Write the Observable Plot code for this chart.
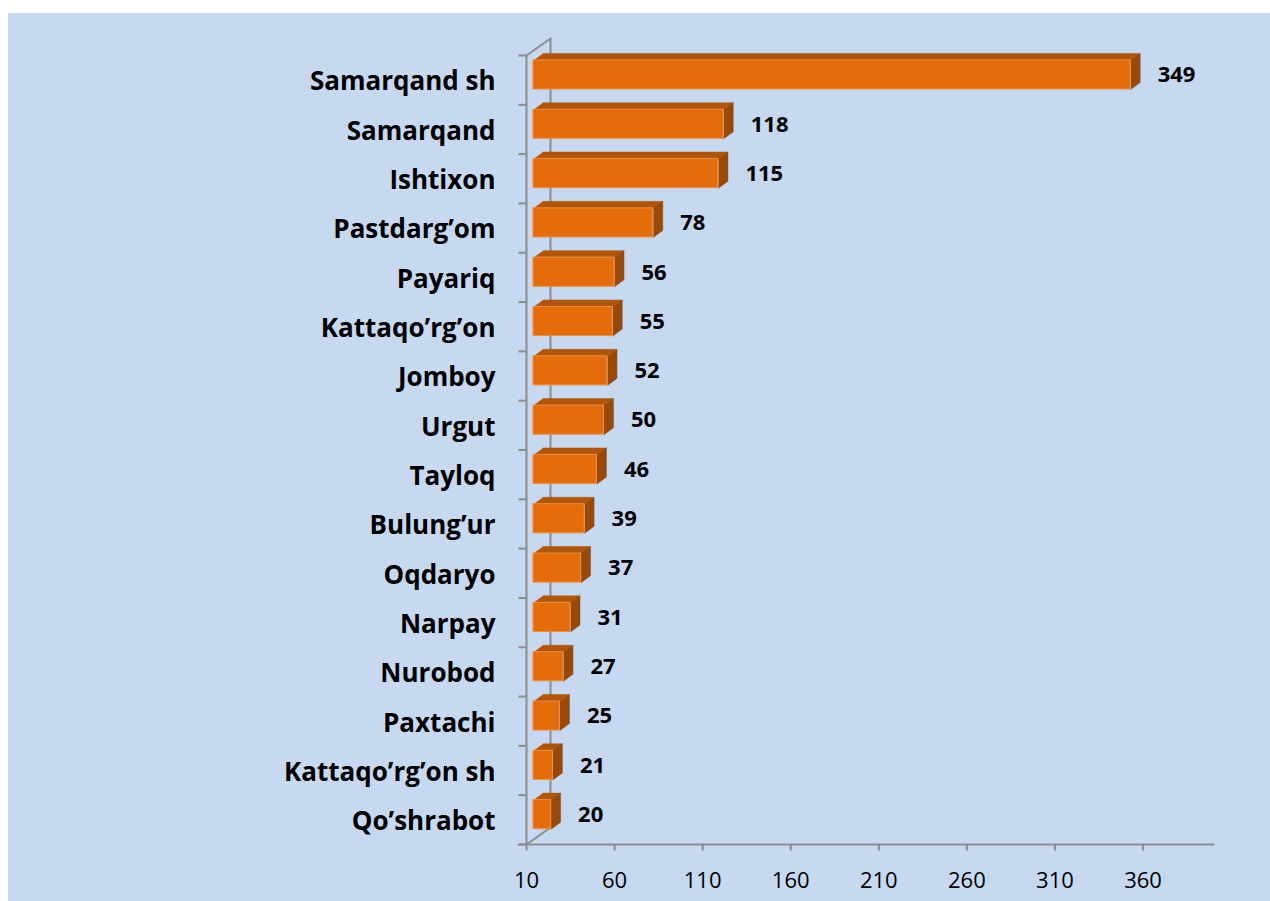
<!DOCTYPE html>
<html><head><meta charset="utf-8">
<script src="https://cdn.jsdelivr.net/npm/d3@7"></script>
<script src="https://cdn.jsdelivr.net/npm/@observablehq/plot@0.6"></script>
<style>
body{margin:0;background:#fff;width:1270px;height:901px;overflow:hidden;position:relative;}
#panel{position:absolute;left:8px;top:13px;width:1262px;height:888px;background:#C6D9F1;}
#chart{position:absolute;left:0;top:0;}
</style></head><body><div id="panel"></div><div id="chart"></div>
<script>
const districts = ["Samarqand sh","Samarqand","Ishtixon","Pastdarg’om","Payariq","Kattaqo’rg’on","Jomboy","Urgut","Tayloq","Bulung’ur","Oqdaryo","Narpay","Nurobod","Paxtachi","Kattaqo’rg’on sh","Qo’shrabot"];
const values = [349,118,115,78,56,55,52,50,46,39,37,31,27,25,21,20];
const xTicks = [10,60,110,160,210,260,310,360];
const xDomain = [10,400];

const W = 1270, H = 901;
const mL = 526, mR = 57, mT = 55, mB = 57;
const n = districts.length;
const kx = (W - mL - mR) / (xDomain[1] - xDomain[0]); // px per x unit
const ky = (H - mT - mB) / n;                          // px per category
const px = p => p / kx, py = p => p / ky;
const x0 = xDomain[0];

const bars = districts.map((d, i) => ({
  name: d, i, v: values[i],
  xa: x0 + px(7), xb: values[i] + px(7),
  ya: i + 0.1, yb: i + 0.69
}));
const ddx = px(9.5), ddy = py(7);
const topFaces = bars.flatMap(b => [
  {id: b.i, x: b.xa, y: b.ya}, {id: b.i, x: b.xb, y: b.ya},
  {id: b.i, x: b.xb + ddx, y: b.ya - ddy}, {id: b.i, x: b.xa + ddx, y: b.ya - ddy}
]);
const sideFaces = bars.flatMap(b => [
  {id: b.i, x: b.xb, y: b.ya}, {id: b.i, x: b.xb + ddx, y: b.ya - ddy},
  {id: b.i, x: b.xb + ddx, y: b.yb - ddy}, {id: b.i, x: b.xb, y: b.yb}
]);

const wdx = px(24), wdy = py(17);
const axisColor = "#8c8c8c";
const frame = [
  {id: "left", pts: [[x0, 0], [x0, n]]},
  {id: "top", pts: [[x0, 0], [x0 + wdx, -wdy]]},
  {id: "back", pts: [[x0 + wdx, -wdy], [x0 + wdx, n - wdy]]},
  {id: "bottomDiag", pts: [[x0, n], [x0 + wdx, n - wdy]]},
  {id: "bottom", pts: [[x0 - px(8), n], [xDomain[1], n]]}
].flatMap(s => s.pts.map(([x, y]) => ({id: s.id, x, y})));
const yTickPos = d3.range(n + 1);

const chart = Plot.plot({
  width: W, height: H,
  marginLeft: mL, marginRight: mR, marginTop: mT, marginBottom: mB,
  style: {background: "transparent", overflow: "visible"},
  x: {domain: xDomain, axis: null},
  y: {domain: [0, n], reverse: true, axis: null},
  marks: [
    Plot.line(frame, {x: "x", y: "y", z: "id", stroke: axisColor, strokeWidth: 2}),
    Plot.link(yTickPos, {x1: x0 - px(8), x2: x0, y1: d => d, y2: d => d, stroke: axisColor, strokeWidth: 2}),
    Plot.link(xTicks, {x1: d => d, x2: d => d, y1: n, y2: n + py(6), stroke: axisColor, strokeWidth: 2}),
    Plot.text(xTicks, {x: d => d, y: n, dy: 36, text: d => String(d), fontSize: 22, fill: "#000", fontFamily: "Open Sans"}),
    Plot.text(districts, {x: x0, y: (d, i) => i + 0.5, dx: -31, dy: 2, text: d => d, textAnchor: "end", fontSize: 26, fontWeight: "bold", fill: "#000", fontFamily: "Open Sans"}),
    Plot.line(topFaces, {x: "x", y: "y", z: "id", fill: "#B0560A", stroke: "#B0560A", strokeWidth: 0.5}),
    Plot.line(sideFaces, {x: "x", y: "y", z: "id", fill: "#984807", stroke: "#984807", strokeWidth: 0.5}),
    Plot.rect(bars, {x1: "xa", x2: "xb", y1: "ya", y2: "yb", fill: "#E46C0A", stroke: "#EE8F45", strokeWidth: 1}),
    Plot.text(bars, {x: "v", y: d => d.i + 0.4, dx: 34, text: d => String(d.v), textAnchor: "start", fontSize: 22, fontWeight: "bold", fill: "#000", fontFamily: "Open Sans"})
  ]
});
document.getElementById("chart").appendChild(chart);
</script></body></html>
